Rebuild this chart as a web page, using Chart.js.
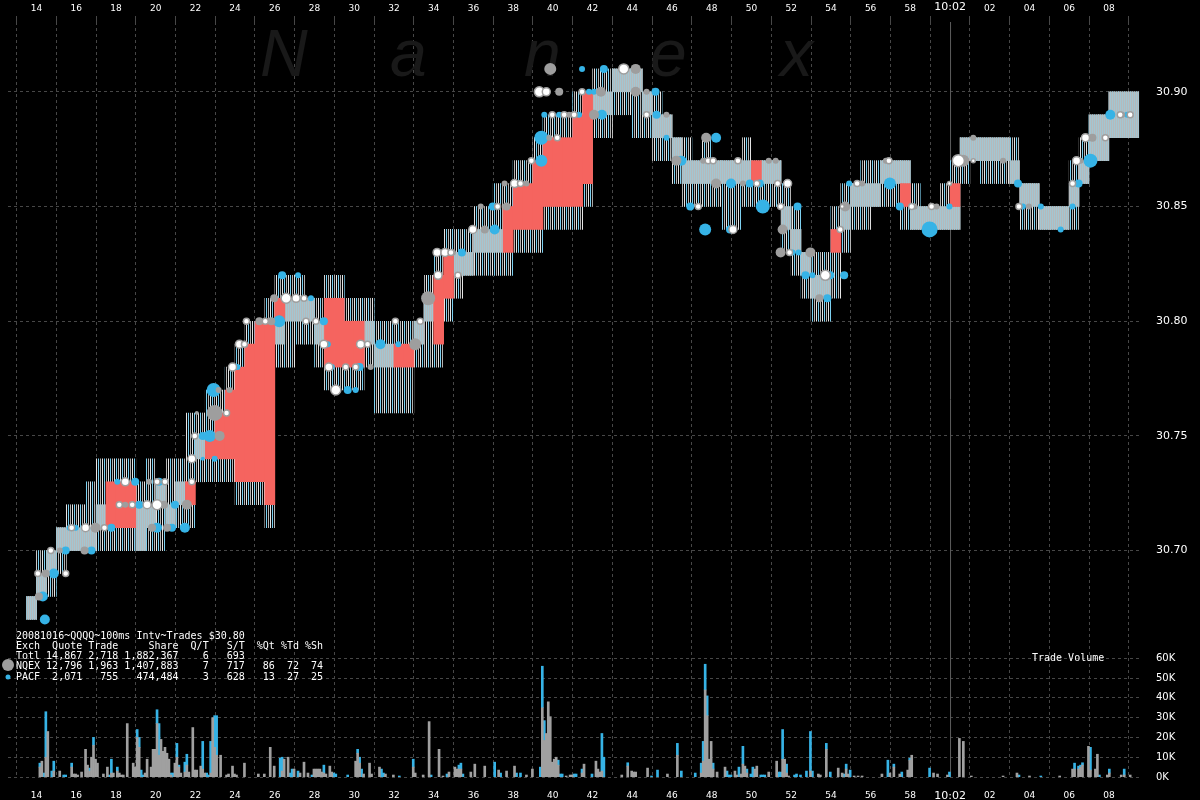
<!DOCTYPE html>
<html>
<head>
<meta charset="utf-8">
<script src="https://cdn.jsdelivr.net/npm/chart.js@4.4.0/dist/chart.umd.min.js"></script>
<style>
  html, body { margin: 0; padding: 0; background: #000; }
  #grafica { display: block; }
</style>
</head>
<body>
<canvas id="grafica" width="1200" height="800"></canvas>
<script>
// time axis, minutes after 9:00
const timeTicks = [14,16,18,20,22,24,26,28,30,32,34,36,38,40,42,44,46,48,50,52,54,56,58,60,62,64,66,68];
const tickLabels = ['14','16','18','20','22','24','26','28','30','32','34','36','38','40','42','44','46','48','50','52','54','56','58','10:02','02','04','06','08'];
const priceTicks = [30.70, 30.75, 30.80, 30.85, 30.90];
const volTicks = [0, 10, 20, 30, 40, 50, 60];

// quotes in 30 second buckets starting at 9:12:30
const quoteStart = 12.5;
const bucketLen = 0.5;
const hatchLo = [null,null,30.67,30.68,30.68,30.69,30.70,30.70,30.70,30.70,
  30.70,30.70,30.70,30.70,30.70,30.70,30.71,30.71,30.71,30.73,
  30.73,30.73,30.73,30.72,30.72,30.72,30.71,30.78,30.78,30.79,
  30.79,30.78,30.77,30.77,30.77,30.77,30.78,30.76,30.76,30.76,
  30.76,30.78,30.78,30.78,30.80,30.81,30.82,30.82,30.82,30.82,
  30.82,30.83,30.83,30.83,30.84,30.84,30.84,30.84,30.85,30.88,
  30.88,30.89,30.89,30.88,30.88,30.87,30.87,30.86,30.85,30.85,
  30.85,30.85,30.84,30.84,30.85,30.85,30.85,30.85,30.83,30.82,
  30.81,30.80,30.80,30.81,30.83,30.84,30.84,30.85,30.85,30.85,
  30.84,30.84,30.84,30.84,30.84,30.84,30.86,30.87,30.86,30.86,
  30.86,30.86,30.84,30.84,30.84,30.84,30.84,30.84,30.86,30.87,
  30.87,30.88,30.88,30.88];
const hatchHi = [null,null,30.68,30.70,30.70,30.71,30.72,30.72,30.73,30.74,
  30.74,30.74,30.74,30.73,30.74,30.73,30.74,30.74,30.76,30.76,
  30.77,30.77,30.78,30.79,30.80,30.80,30.81,30.82,30.82,30.82,
  30.81,30.81,30.82,30.82,30.81,30.81,30.81,30.80,30.80,30.80,
  30.80,30.80,30.82,30.83,30.84,30.84,30.84,30.85,30.85,30.86,
  30.86,30.87,30.87,30.88,30.89,30.89,30.89,30.90,30.90,30.91,
  30.91,30.91,30.91,30.91,30.90,30.90,30.89,30.88,30.88,30.87,
  30.88,30.87,30.87,30.87,30.88,30.87,30.87,30.87,30.86,30.85,
  30.83,30.83,30.83,30.85,30.86,30.86,30.87,30.87,30.87,30.87,
  30.87,30.86,30.85,30.85,30.86,30.87,30.88,30.88,30.88,30.88,
  30.88,30.88,30.86,30.86,30.85,30.85,30.85,30.87,30.88,30.89,
  30.89,30.90,30.90,30.90];
const coreLo = [null,null,30.67,30.68,30.69,30.70,30.70,30.70,30.70,30.71,
  null,null,null,30.70,30.71,30.72,30.71,30.72,null,30.74,
  null,null,null,null,null,null,null,30.79,30.80,30.80,
  30.80,30.79,null,null,null,null,30.79,30.78,30.78,null,
  null,30.79,30.80,null,null,30.82,30.82,30.83,30.83,30.83,
  null,null,null,null,null,null,null,null,null,30.89,
  30.89,30.90,30.90,30.90,30.89,30.88,30.88,30.87,30.86,30.86,
  30.86,30.86,30.86,30.86,30.86,null,30.86,30.86,30.84,30.83,
  30.82,30.81,30.81,null,30.84,30.85,30.85,30.85,30.86,30.86,
  30.86,30.84,30.84,30.84,30.84,30.84,30.87,30.87,30.87,30.87,
  30.87,30.86,30.85,30.85,30.84,30.84,30.84,30.85,30.86,30.87,
  30.87,30.88,30.88,30.88];
const coreHi = [null,null,30.68,30.69,30.70,30.71,30.71,30.71,30.71,30.72,
  null,null,null,30.72,30.72,30.73,30.72,30.73,null,30.75,
  null,null,null,null,null,null,null,30.80,30.81,30.81,
  30.81,30.80,null,null,null,null,30.80,30.79,30.79,null,
  null,30.80,30.81,null,null,30.83,30.83,30.84,30.84,30.84,
  null,null,null,null,null,null,null,null,null,30.90,
  30.90,30.91,30.91,30.91,30.90,30.89,30.89,30.88,30.87,30.87,
  30.87,30.87,30.87,30.87,30.87,null,30.87,30.87,30.85,30.84,
  30.83,30.82,30.82,null,30.85,30.86,30.86,30.86,30.87,30.87,
  30.87,30.85,30.85,30.85,30.85,30.85,30.88,30.88,30.88,30.88,
  30.88,30.87,30.86,30.86,30.85,30.85,30.85,30.86,30.87,30.89,
  30.89,30.90,30.90,30.90];
// crossed quotes: [bucket start, low, high]
const crossed = [[17.5,30.71,30.73],[18.0,30.71,30.73],[18.5,30.71,30.73],[21.5,30.72,30.73],
  [22.5,30.74,30.75],[23.0,30.74,30.76],[23.5,30.74,30.77],[24.0,30.73,30.78],[24.5,30.73,30.79],
  [25.0,30.73,30.80],[25.5,30.72,30.80],[26.0,30.80,30.81],[28.5,30.78,30.81],[29.0,30.78,30.81],
  [29.5,30.78,30.80],[30.0,30.78,30.80],[32.0,30.78,30.79],[32.5,30.78,30.79],[34.0,30.79,30.82],
  [34.5,30.81,30.83],[37.5,30.83,30.85],[38.0,30.84,30.86],[38.5,30.84,30.86],[39.0,30.84,30.87],
  [39.5,30.85,30.88],[40.0,30.85,30.88],[40.5,30.85,30.88],[41.0,30.85,30.89],[41.5,30.86,30.90],
  [50.0,30.86,30.87],[54.0,30.83,30.84],[57.5,30.85,30.86],[60.0,30.85,30.86]];

// trades: [minute, price, dot radius]
const nqexTrades = [[14.12,30.68,4],[14.47,30.69,4],[15.17,30.70,3],[16.97,30.71,5],[16.42,30.70,4],
  [18.47,30.72,3],[20.42,30.72,4],[21.57,30.72,5],[19.82,30.71,4],[20.57,30.71,4],[19.67,30.73,3],
  [23.22,30.75,5],[22.07,30.76,2],[22.97,30.76,8],[23.17,30.77,3],[23.72,30.77,3],[25.22,30.80,4],
  [25.82,30.80,4],[25.97,30.81,4],[30.82,30.78,3],[33.07,30.79,6],[33.72,30.81,7],[34.97,30.83,3],
  [36.57,30.84,4],[36.37,30.85,3],[37.67,30.85,4],[37.57,30.86,3],[38.67,30.86,3],[39.82,30.88,3],
  [39.87,30.91,6],[40.32,30.90,4],[40.82,30.89,3],[42.07,30.89,5],[42.42,30.90,5],[44.17,30.91,5],
  [44.17,30.90,5],[44.72,30.90,3],[45.72,30.89,3],[47.72,30.88,5],[46.22,30.87,5],[47.57,30.87,3],
  [48.22,30.86,5],[49.57,30.86,3],[50.87,30.87,3],[51.22,30.87,3],[51.57,30.84,5],[51.47,30.83,5],
  [52.97,30.83,5],[53.42,30.81,4],[54.72,30.85,5],[55.57,30.86,3],[56.77,30.87,3],[58.22,30.85,3],
  [59.32,30.85,3],[60.67,30.87,6],[61.17,30.88,3],[62.67,30.87,3],[63.97,30.85,3],[66.57,30.87,3],
  [67.17,30.88,4],[68.67,30.89,3]];
const pacfTrades = [[14.42,30.67,5],[14.32,30.68,5],[14.87,30.69,5],[15.47,30.70,4],[15.67,30.71,3],
  [15.97,30.71,3],[16.77,30.70,4],[17.77,30.71,4],[19.17,30.72,4],[20.97,30.72,4],[20.07,30.71,5],
  [20.82,30.71,4],[21.47,30.71,5],[18.07,30.73,3],[18.97,30.73,4],[20.17,30.73,4],[22.37,30.74,2],
  [22.37,30.75,4],[22.97,30.74,3],[22.72,30.75,6],[22.92,30.77,7],[24.12,30.78,3],[26.22,30.80,6],
  [27.82,30.81,3],[26.37,30.82,4],[27.17,30.82,3],[28.47,30.80,4],[28.67,30.79,3],[28.87,30.78,3],
  [30.27,30.78,4],[29.67,30.77,4],[30.07,30.77,3],[31.32,30.79,5],[32.22,30.79,3],[33.07,30.79,3],
  [33.72,30.81,3],[35.42,30.83,4],[37.07,30.84,5],[36.97,30.85,4],[39.42,30.87,6],[39.42,30.88,7],
  [41.47,30.91,3],[41.82,30.90,3],[42.07,30.90,3],[39.57,30.89,3],[40.32,30.89,3],[41.32,30.89,3],
  [42.47,30.89,5],[42.57,30.91,4],[45.17,30.90,4],[45.22,30.89,4],[45.72,30.88,3],[46.47,30.87,5],
  [48.22,30.88,5],[48.97,30.86,5],[49.92,30.86,4],[46.92,30.85,4],[47.67,30.84,6],[48.92,30.84,4],
  [50.57,30.85,7],[52.32,30.85,4],[50.42,30.86,4],[52.07,30.83,3],[52.37,30.83,3],[52.72,30.82,4],
  [53.07,30.82,3],[53.97,30.82,4],[54.67,30.82,4],[53.82,30.81,4],[54.92,30.86,3],[56.97,30.86,6],
  [57.47,30.85,4],[58.97,30.84,8],[59.97,30.85,3],[63.42,30.86,4],[63.67,30.85,3],[64.57,30.85,3],
  [65.57,30.84,3],[66.17,30.85,3],[66.47,30.86,4],[67.07,30.87,7],[67.07,30.88,3],[68.07,30.89,5],
  [68.92,30.89,3]];
const crossTrades = [[14.07,30.69,3],[14.72,30.70,3],[15.77,30.71,3],[16.47,30.71,4],[17.42,30.71,3],
  [15.47,30.69,3],[18.17,30.72,3],[18.82,30.72,3],[19.57,30.72,4],[20.07,30.72,5],[20.07,30.73,3],
  [20.47,30.73,3],[21.82,30.73,3],[18.47,30.73,4],[21.82,30.74,4],[21.97,30.75,3],[23.57,30.76,3],
  [23.87,30.78,4],[24.22,30.79,4],[24.47,30.79,3],[24.57,30.80,3],[25.52,30.80,3],[26.57,30.81,5],
  [27.07,30.81,4],[27.47,30.81,3],[27.57,30.80,3],[28.07,30.80,3],[28.47,30.79,4],[28.72,30.78,4],
  [29.57,30.78,3],[30.07,30.78,3],[29.07,30.77,5],[30.32,30.79,4],[30.67,30.79,3],[32.07,30.80,3],
  [33.32,30.80,3],[34.22,30.82,4],[35.22,30.82,3],[34.17,30.83,4],[34.57,30.83,4],[34.87,30.83,3],
  [35.97,30.84,4],[37.22,30.85,3],[38.07,30.86,4],[38.37,30.86,3],[38.92,30.87,3],[40.22,30.88,3],
  [39.32,30.90,5],[39.67,30.90,4],[41.47,30.90,3],[39.97,30.89,3],[40.57,30.89,3],[41.07,30.89,3],
  [43.57,30.91,5],[44.72,30.89,3],[47.82,30.87,3],[48.07,30.87,3],[49.32,30.87,3],[47.32,30.85,3],
  [51.32,30.86,3],[51.82,30.86,4],[49.07,30.84,4],[51.47,30.85,3],[51.92,30.83,3],[50.27,30.86,3],
  [53.72,30.82,5],[54.47,30.84,3],[54.57,30.85,2],[55.32,30.86,3],[56.92,30.87,3],[58.07,30.85,3],
  [59.07,30.85,3],[59.97,30.86,2],[60.42,30.87,6],[61.17,30.87,2],[63.47,30.85,3],[66.17,30.86,3],
  [66.37,30.87,4],[66.82,30.88,4],[67.82,30.88,3],[68.57,30.89,3],[69.07,30.89,3]];

// trade volume in K: [minute, NQEX, PACF]
const volume = [[14.17,5,2],[14.27,8,0],[14.37,0,2],[14.47,10,23],[14.57,23,0],[14.77,0,3],[14.87,3,5],
  [15.17,3,0],[15.37,0,1],[15.47,0,1],[15.77,5,2],[15.87,1.5,0],[15.97,1.5,0],[16.07,1,0],[16.27,2.5,0],
  [16.47,14,0],[16.57,6,0],[16.67,3,1.5],[16.77,10,0],[16.87,16,4],[16.97,9,0],[17.07,7,0],[17.37,1.5,0],
  [17.57,5,0],[17.67,0,1],[17.77,2,7],[17.87,2,0],[18.07,3,2],[18.17,2,0],[18.27,1,0],[18.37,1,0],
  [18.57,27,0],[18.87,7,0],[18.97,5,0],[19.07,20,4],[19.17,15,5],[19.27,0,3.5],[19.37,0,1],[19.47,2,0],
  [19.57,9,0],[19.77,5,0],[19.87,14,0],[19.97,14,0],[20.07,27,7],[20.17,11,16],[20.27,19,0],[20.37,13,0],
  [20.47,15,0],[20.57,12,0],[20.67,9,0],[20.77,1,1],[20.87,0,2],[20.97,7,0],[21.07,10,7],[21.17,5,1],
  [21.27,2,0],[21.47,2.5,5],[21.57,6,5.5],[21.67,2.5,0],[21.87,25,0],[21.97,3.5,0],[22.07,3.5,0],
  [22.27,5.5,0],[22.37,4,14],[22.47,2,0],[22.57,0,2],[22.67,0,1],[22.77,2,16],[22.87,30,0],[22.97,15,16],
  [23.07,11,20],[23.27,11,0],[23.57,1,0],[23.67,1.5,0],[23.87,5.5,0],[23.97,1.5,0],[24.07,1,0],
  [24.47,7,0],[25.17,1.5,0],[25.47,1.5,0],[25.77,15,0],[25.97,5.5,0],[26.27,0,9.5],[26.37,3,7],
  [26.47,9,0],[26.67,10,0],[26.77,0,2],[26.87,0,4],[26.97,4,0],[27.17,0,3],[27.27,2,0],[27.47,7.5,0],
  [27.67,2,0],[27.87,0,1],[27.97,4,0],[28.07,4,0],[28.17,4,0],[28.27,4,0],[28.37,2.5,0],[28.47,2,4],
  [28.57,1.5,0],[28.77,5.5,0],[28.87,2.5,0],[28.97,0,2],[29.07,0,1.5],[29.67,0,1],[30.07,8,0],
  [30.17,12,2],[30.27,7,3],[30.37,0,4],[30.47,1.5,0],[30.77,7,0],[30.87,1.5,0],[31.27,5,0],[31.37,0,4],
  [31.47,0,2],[31.57,1.5,0],[31.97,1,0],[32.27,0,0.5],[32.97,5,4],[33.07,2,0],[33.47,1,0],[33.77,28,0],
  [33.87,0,1],[34.27,14,0],[34.47,0.5,0],[34.67,0,1.5],[34.77,2.5,0],[35.07,5,0],[35.17,4,0],[35.27,4,2],
  [35.37,4,3],[35.47,0,1.5],[35.87,2.5,0],[36.07,6.5,0],[36.57,5.5,0],[37.07,0,7.5],[37.27,3.5,0],
  [37.37,0,2],[37.67,3,0],[38.07,5.5,0],[38.17,0,2],[38.37,0,2],[38.67,1,0],[38.97,4,0],[39.37,0,5],
  [39.47,35,21],[39.57,18.5,10],[39.67,22,0],[39.77,38,0],[39.87,30.5,0],[39.97,7.5,0],[40.07,9,0],
  [40.17,10,0],[40.27,6,2.5],[40.37,0,1.5],[40.47,0,1.5],[40.67,0.5,0],[40.87,1,0],[40.97,1,0],
  [41.07,0,1.5],[41.17,0,1.5],[41.47,2,2],[41.57,6.5,0],[41.97,0,1.5],[42.17,8,0],[42.27,4,0],
  [42.37,2.5,0],[42.47,3,19],[42.57,0,10],[43.47,1,0],[43.77,5.5,1.7],[43.97,3,0],[44.07,2.5,0],
  [44.17,2.5,0],[44.77,4.5,0],[44.97,0,0.5],[45.27,0,3.5],[45.77,1.5,0],[46.27,11,6],[46.47,0,3],
  [47.17,0,2],[47.47,2,5],[47.57,8,10],[47.67,44,13],[47.77,31,10],[47.87,9,0],[47.97,18,0],[48.07,4,3],
  [48.27,2.5,0],[48.67,5,0],[48.77,0,3],[48.87,0,1],[48.97,0,1],[49.17,3,0],[49.27,1,0],[49.37,0,5],
  [49.47,1.5,0],[49.57,6.5,9],[49.67,5.5,0],[49.77,2,2],[49.97,0,1.5],[50.07,0,5],[50.17,4,0],
  [50.27,5.5,0],[50.47,0,1],[50.57,0,1],[50.67,0,1],[50.87,2.5,0],[51.27,8,0],[51.37,0,2.5],[51.47,0,2.5],
  [51.57,9,15],[51.67,9,0],[51.77,2,4.5],[51.87,0.5,0],[52.17,0,1],[52.27,0,1.5],[52.47,0,1],[52.77,0,3],
  [52.97,3,20],[53.07,0,3],[53.37,1.5,0],[53.47,1,0],[53.77,14,3],[53.97,0,2.5],[54.37,4.5,0],[54.57,2,0],
  [54.67,0,1.5],[54.77,4,2.5],[54.87,1.5,0],[54.97,0,3.5],[55.17,0.5,0],[55.37,0.5,0],[55.57,0.5,0],
  [56.57,1.5,0],[56.87,0,8.5],[56.97,2,0],[57.17,5,1.5],[57.47,1.5,0],[57.57,0,2.5],[57.87,3.5,0],
  [57.97,8.5,1],[58.07,11,0],[58.97,0,4.5],[59.17,2,0],[59.37,1.5,0],[59.87,1,0],[59.97,0,2.5],
  [60.47,19.5,0],[60.67,18,0],[61.07,0.5,0],[62.67,0.5,0],[63.37,2,0],[63.47,0,1],[64.0,0.5,0],
  [64.57,0,0.5],[65.52,0.5,0],[66.17,4,0],[66.27,4,3],[66.47,4,1.5],[66.57,5,1],[66.67,6,1.2],
  [66.97,15.5,0],[67.07,3.5,11.5],[67.32,4,0],[67.42,11.5,0],[67.52,0,1],[67.92,1,0],[68.02,2,2],
  [68.62,1,0],[68.77,1,3],[69.07,1,0]];

const legendLines = [
  '20081016~QQQQ~100ms Intv~Trades $30.80',
  'Exch  Quote Trade     Share  Q/T   S/T  %Qt %Td %Sh',
  'Totl 14,867 2,718 1,882,367    6   693',
  'NQEX 12,796 1,963 1,407,883    7   717   86  72  74',
  'PACF  2,071   755   474,484    3   628   13  27  25'
];

const ctx = document.getElementById('grafica').getContext('2d');

function stripes(cols) {
  const c = document.createElement('canvas');
  c.width = cols.length; c.height = 1;
  const g = c.getContext('2d');
  cols.forEach((col, i) => { g.fillStyle = col; g.fillRect(i, 0, 1, 1); });
  return ctx.createPattern(c, 'repeat');
}
const hatchFill = stripes(['#e4e4e4', '#000000', '#7dd0f0', '#000000', '#b4b4b4', '#000000']);
const coreFill = stripes(['#a3c6d2', '#b5b9bb']);

const mid = i => quoteStart + i * bucketLen + bucketLen / 2;
const hatchData = [], coreData = [];
hatchLo.forEach((lo, i) => { if (lo !== null) hatchData.push({ x: mid(i), y: [lo, hatchHi[i]] }); });
coreLo.forEach((lo, i) => { if (lo !== null) coreData.push({ x: mid(i), y: [lo, coreHi[i]] }); });
const redData = crossed.map(r => ({ x: r[0] + bucketLen / 2, y: [r[1], r[2]] }));
const dots = arr => arr.map(d => ({ x: d[0], y: d[1], r: d[2] }));
const volGray = volume.filter(v => v[1] > 0).map(v => ({ x: v[0], y: [0, v[1]] }));
const volBlue = volume.filter(v => v[2] > 0).map(v => ({ x: v[0], y: [v[1], v[1] + v[2]] }));

const xMin = 12.565, xMax = 69.565;
const volMax = 60 * 757 / 119;
const gridCol = '#474747';

const nanexPlugin = {
  id: 'nanex',
  beforeDraw(chart) {
    const c = chart.ctx;
    c.save();
    c.fillStyle = '#000';
    c.fillRect(0, 0, chart.width, chart.height);
    c.restore();
  },
  beforeDatasetsDraw(chart) {
    const c = chart.ctx;
    c.save();
    c.fillStyle = '#191919';
    c.font = 'italic 66px "Liberation Sans"';
    c.textBaseline = 'alphabetic';
    [['N', 260], ['a', 390], ['n', 524], ['e', 650], ['x', 780]].forEach(l => c.fillText(l[0], l[1], 76));
    const x = chart.scales.x.getPixelForValue(60);
    c.strokeStyle = '#5c5c5c';
    c.lineWidth = 1;
    c.beginPath();
    c.moveTo(x + 0.5, chart.chartArea.top);
    c.lineTo(x + 0.5, chart.chartArea.bottom);
    c.stroke();
    c.restore();
  },
  afterDraw(chart) {
    const c = chart.ctx;
    c.save();
    c.fillStyle = '#fff';
    c.font = '10px "DejaVu Sans Mono"';
    c.textBaseline = 'middle';
    legendLines.forEach((t, i) => c.fillText(t, 16, 636 + i * 10.3));
    c.fillText('Trade Volume', 1032, 658);
    c.fillStyle = '#9e9e9e';
    c.beginPath(); c.arc(8, 665, 6, 0, Math.PI * 2); c.fill();
    c.fillStyle = '#36b3e6';
    c.beginPath(); c.arc(8, 677, 2.5, 0, Math.PI * 2); c.fill();
    c.restore();
  }
};

const timeAxis = (pos, h, pad) => ({
  type: 'linear', position: pos, min: xMin, max: xMax, offset: false,
  afterBuildTicks: s => { s.ticks = timeTicks.map(v => ({ value: v })); },
  afterFit: s => { s.height = h; },
  ticks: {
    color: '#fff', autoSkip: false, maxRotation: 0, padding: pad,
    font: c => ({ family: 'DejaVu Sans', size: c.tick && c.tick.value === 60 ? 11 : 9 }),
    callback: (v, i) => tickLabels[i]
  }
});

const xTop = timeAxis('top', 20, 2);
xTop.grid = { color: gridCol, tickLength: 6 };
xTop.border = { display: false, dash: [3, 3] };
const xBottom = timeAxis('bottom', 23, 5);
xBottom.grid = { display: false };
xBottom.border = { display: false };

new Chart(ctx, {
  type: 'bar',
  data: {
    datasets: [
      { type: 'bubble', data: dots(crossTrades), backgroundColor: '#ffffff', borderColor: '#9e9e9e', borderWidth: 1.5, order: 0 },
      { type: 'bubble', data: dots(nqexTrades), backgroundColor: '#9e9e9e', borderWidth: 0, order: 0 },
      { type: 'bubble', data: dots(pacfTrades), backgroundColor: '#36b3e6', borderWidth: 0, order: 0 },
      { data: redData, backgroundColor: '#f5645f', barThickness: 10, grouped: false, order: 1 },
      { data: coreData, backgroundColor: coreFill, barThickness: 10, grouped: false, order: 2 },
      { data: hatchData, backgroundColor: hatchFill, barThickness: 10, grouped: false, order: 3 },
      { data: volGray, yAxisID: 'yv', backgroundColor: '#a0a0a0', barThickness: 2, grouped: false, order: 4 },
      { data: volBlue, yAxisID: 'yv', backgroundColor: '#36b3e6', barThickness: 2, grouped: false, order: 4 }
    ]
  },
  options: {
    responsive: false,
    animation: false,
    events: [],
    layout: { padding: 0 },
    plugins: { legend: { display: false }, tooltip: { enabled: false } },
    scales: {
      x: xTop,
      x2: xBottom,
      y: {
        // one right axis carries the price ticks and the volume ticks of the lower panel
        position: 'right',
        min: 30.9 - 687 / 2300, max: 30.9 + 70 / 2300,
        afterBuildTicks: s => {
          const span = s.max - s.min;
          s.ticks = priceTicks.map(v => ({ value: v }))
            .concat(volTicks.map(v => ({ value: s.min + v / volMax * span })));
        },
        afterFit: s => { s.width = 60; },
        ticks: {
          color: '#fff', padding: 16, autoSkip: false,
          font: c => ({ family: 'DejaVu Sans', size: c.index < priceTicks.length ? 11 : 10 }),
          callback: (v, i) => i < priceTicks.length ? priceTicks[i].toFixed(2) : volTicks[i - priceTicks.length] + 'K'
        },
        grid: { color: gridCol, drawTicks: false },
        border: { display: false, dash: [3, 3] }
      },
      yv: { display: false, min: 0, max: volMax }
    }
  },
  plugins: [nanexPlugin]
});
</script>
</body>
</html>
